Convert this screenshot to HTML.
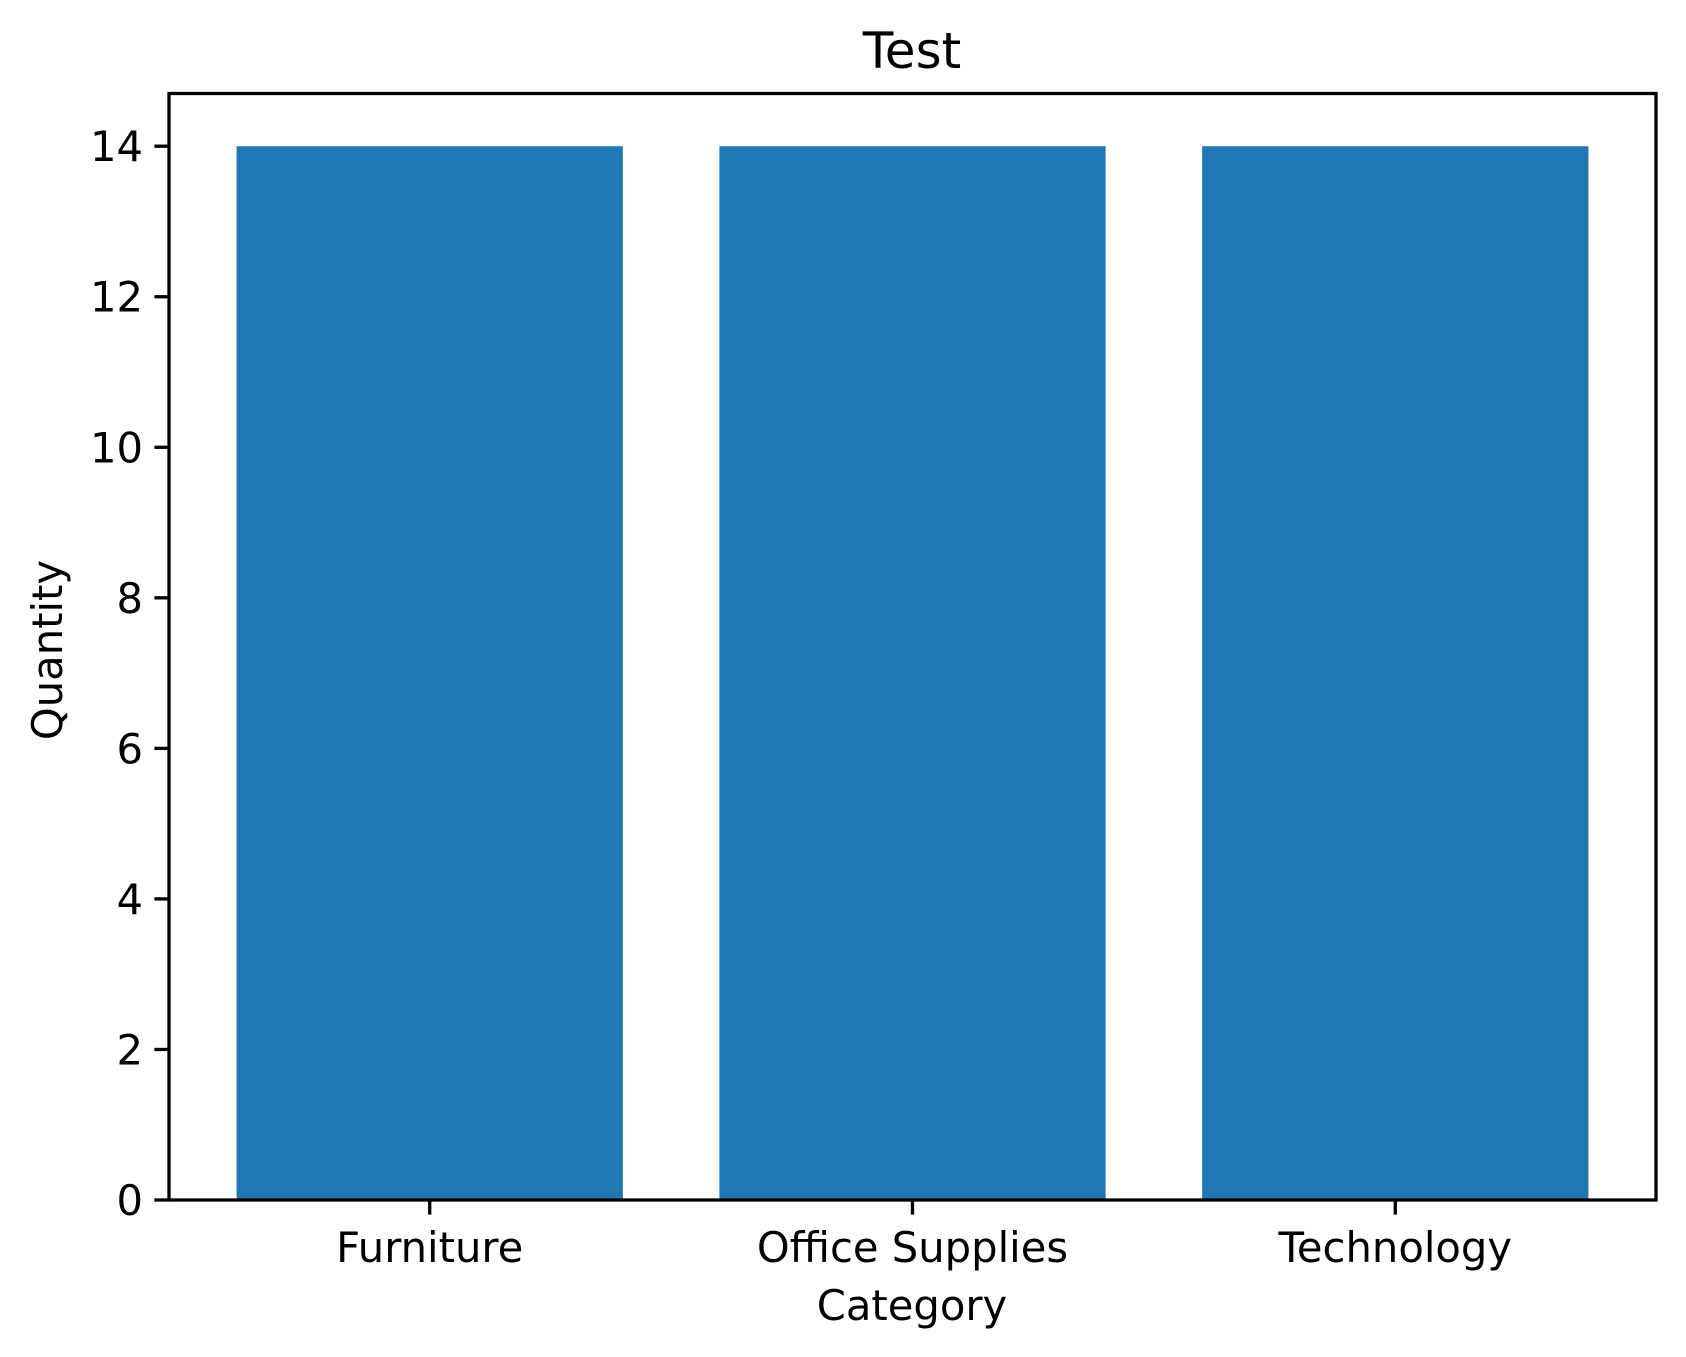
<!DOCTYPE html>
<html><head><meta charset="utf-8"><style>
html,body{margin:0;padding:0;background:#fff;}
svg{display:block;font-family:"DejaVu Sans","Liberation Sans",sans-serif;}
</style></head><body>
<svg id="chart" width="1686" height="1357" viewBox="0 0 1686 1357" xmlns="http://www.w3.org/2000/svg">
<rect width="1686" height="1357" fill="#fff"/>
<g id="bars"></g>
<g id="yticks"></g>
<g id="xticks"></g>
<rect x="169" y="93.5" width="1487" height="1106.5" fill="none" stroke="#000" stroke-width="3.3"/>
<text x="912" y="68" font-size="50" text-anchor="middle">Test</text>
<text x="912" y="1320" font-size="41.7" text-anchor="middle">Category</text>
<text transform="translate(62,650) rotate(-90)" font-size="41.7" text-anchor="middle">Quantity</text>
</svg>
<script>
const categories = ["Furniture", "Office Supplies", "Technology"];
const values = [14, 14, 14];
const yTicks = [0, 2, 4, 6, 8, 10, 12, 14];
const NS = "http://www.w3.org/2000/svg";
const L = 169, R = 1656, T = 93.5, B = 1200;
const xMin = -0.54, xMax = categories.length - 1 + 0.54;
const yMax = 14.7;
function xs(v){ return L + (v - xMin) / (xMax - xMin) * (R - L); }
function ys(v){ return B - v / yMax * (B - T); }
function mk(tag, attrs, parent){ const e = document.createElementNS(NS, tag); for (const k in attrs) e.setAttribute(k, attrs[k]); parent.appendChild(e); return e; }
const bars = document.getElementById('bars');
values.forEach((v, i) => {
  const r = mk('rect', {x: xs(i - 0.4), y: ys(v), width: xs(i + 0.4) - xs(i - 0.4), height: ys(0) - ys(v), fill: '#1f77b4'}, bars);
  
  
});
const yg = document.getElementById('yticks');
yTicks.forEach(t => {
  const y = ys(t);
  const l = mk('line', {x1: L - 14.6, x2: L, y1: y, y2: y, stroke: '#000', 'stroke-width': 3.3}, yg);
  
  
  const tx = mk('text', {x: L - 26, y: y + 15, 'font-size': 41.7, 'text-anchor': 'end'}, yg);
  tx.textContent = t;
  
  
});
const xg = document.getElementById('xticks');
categories.forEach((c, i) => {
  const x = xs(i);
  const l = mk('line', {x1: x, x2: x, y1: B, y2: B + 14.6, stroke: '#000', 'stroke-width': 3.3}, xg);
  
  
  const tx = mk('text', {x: x, y: 1262, 'font-size': 41.7, 'text-anchor': 'middle'}, xg);
  tx.textContent = c;
  
  
});
</script>
</body></html>
